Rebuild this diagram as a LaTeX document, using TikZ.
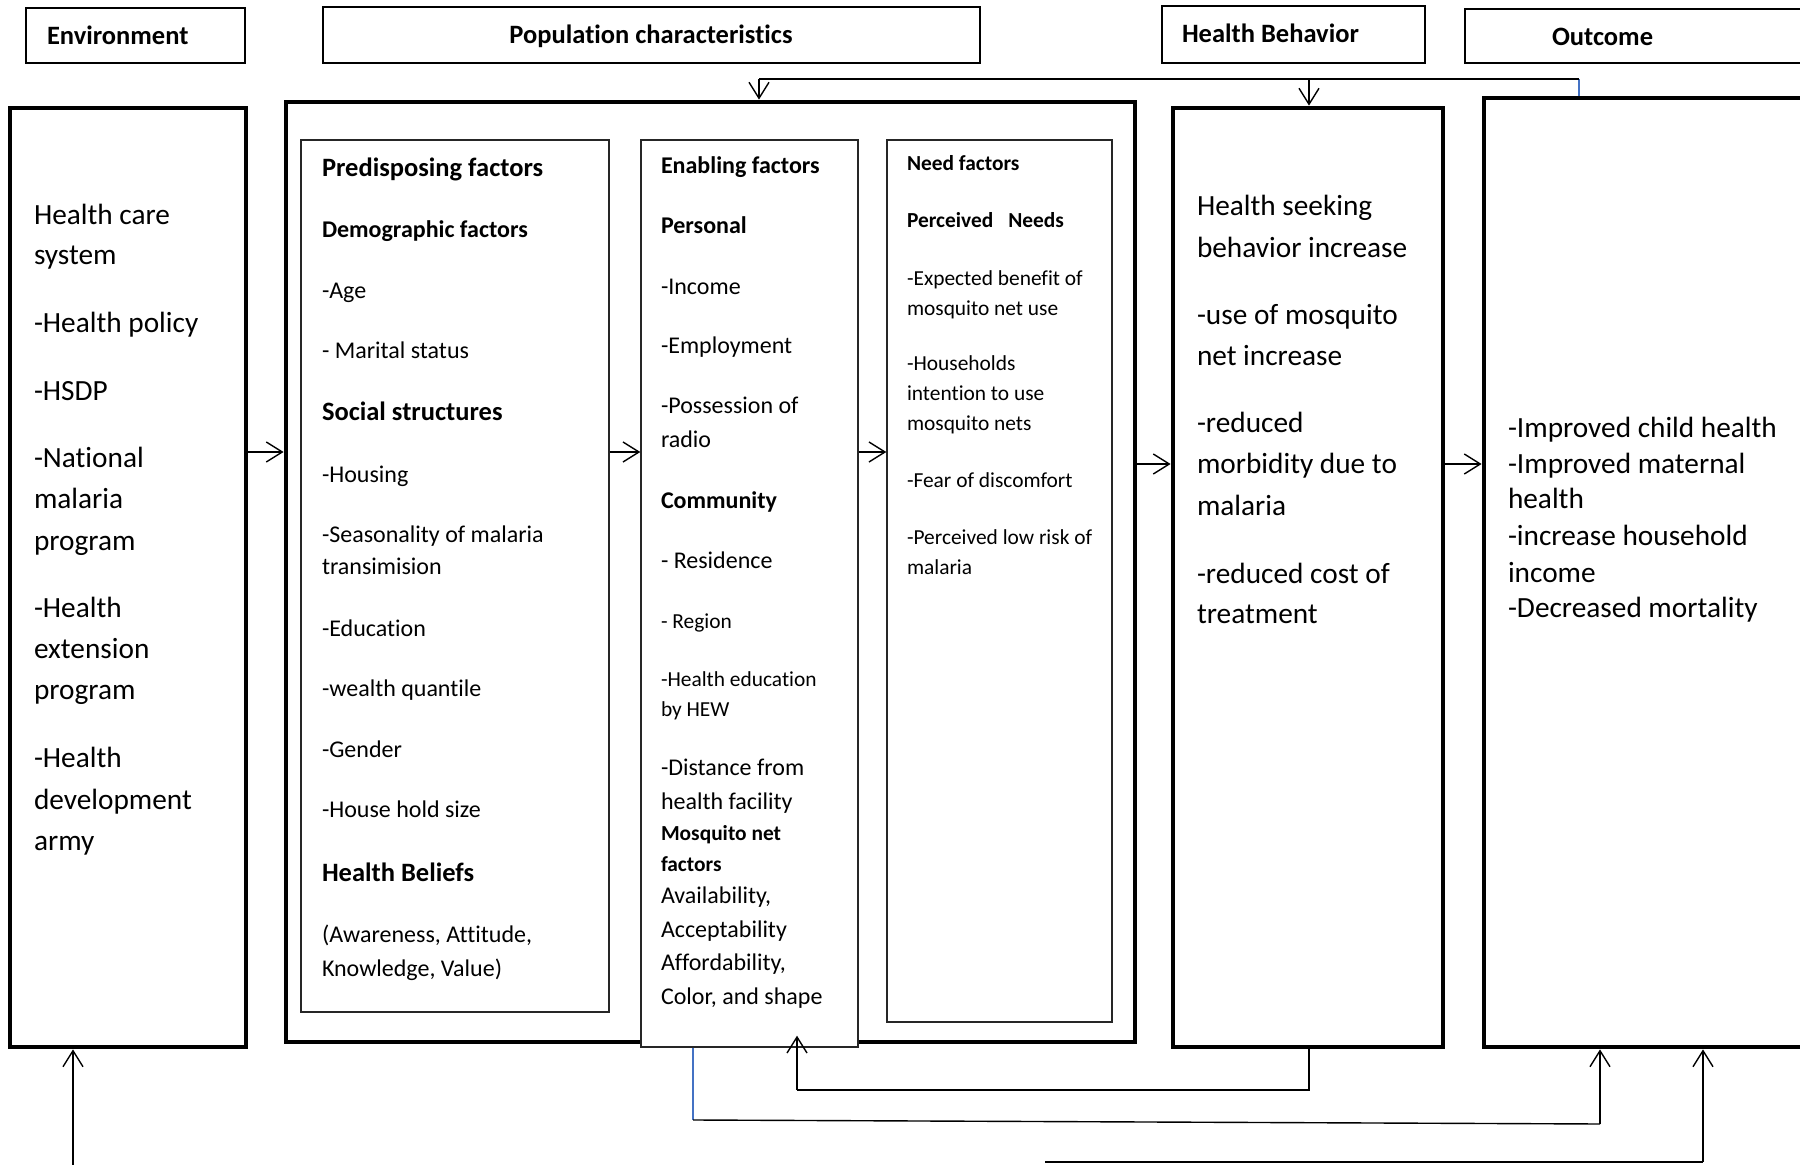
\documentclass[tikz,border=0pt]{standalone}
\usepackage{fontspec}
\setmainfont{Carlito}[Ligatures=NoCommon]
\usetikzlibrary{arrows.meta,fit}
\definecolor{linkblue}{RGB}{68,114,196}
% text sizes used in the framework
\newcommand\txBg{\fontsize{14.65}{17}\selectfont}
\newcommand\txHd{\fontsize{13.25}{16}\selectfont\bfseries}
\newcommand\txMd{\fontsize{12}{14}\selectfont}
\newcommand\txMb{\fontsize{12}{14}\selectfont\bfseries}
\newcommand\txSm{\fontsize{10.7}{13}\selectfont}
\newcommand\txSb{\fontsize{10.7}{13}\selectfont\bfseries}
\begin{document}
\begin{tikzpicture}[x=0.5pt,y=-0.5pt,
  bigbox/.style={draw,line width=2.4pt,inner sep=0pt,fill=white},
  thinbox/.style={draw=black!85,line width=0.7pt,inner sep=0pt,fill=white},
  headbox/.style={draw,line width=0.7pt,inner sep=0pt},
  ln/.style={anchor=base west,inner sep=0pt,outer sep=0pt},
  conn/.style={line width=0.7pt},
  arr/.style={conn,-{Straight Barb[length=8pt,width=10pt]}},
  blueconn/.style={draw=linkblue,line width=0.9pt}]
\useasboundingbox (0,0) rectangle (1800,1165);
\clip (0,0) rectangle (1800,1165);

% ---- column headers ----
\node[headbox,fit={(26,8) (245,63)}] (hEnv) {};
\node[headbox,fit={(323,7) (980,63)}] (hPop) {};
\node[headbox,fit={(1162,6) (1425,63)}] (hBeh) {};
\node[headbox,fit={(1465,9) (1815,63)}] (hOut) {};
\node[ln,font=\txHd] (tEnv) at (47,45) {Environment};
\node[anchor=base,inner sep=0pt,font=\txHd] (tPop) at (651,44) {Population characteristics};
\node[ln,font=\txHd] (tBeh) at (1182,43) {Health Behavior};
\node[ln,font=\txHd] (tOut) at (1552,46) {Outcome};

% ---- main frames ----
\node[bigbox,fit={(10,108) (246,1047)}] (env) {};
\node[bigbox,fit={(286,102) (1135,1042)}] (pop) {};
\node[bigbox,fit={(1173,108) (1443,1047)}] (beh) {};
\node[bigbox,fit={(1484,98) (1815,1047)}] (out) {};

% ---- factor boxes inside the population frame ----
\node[thinbox,fit={(301,140) (609,1012)}] (pred) {};
\node[thinbox,fit={(641,140) (858,1047)}] (enab) {};
\node[thinbox,fit={(887,140) (1112,1022)}] (need) {};

% ---- environment ----
\foreach \yy/\txt [count=\i] in {225/Health care, 265/system, 333/-Health policy,
  401/-HSDP, 468/-National, 509/malaria, 551/program, 618/-Health,
  659/extension, 700/program, 768/-Health, 810/development, 850/army}
  \node[ln,font=\txBg] (env-\i) at (34,\yy) {\txt};

% ---- predisposing factors ----
\foreach \yy/\fnt/\txt [count=\i] in {177/\txHd/Predisposing factors,
  238/\txMb/Demographic factors, 299/\txMd/-Age, 359/\txMd/- Marital status,
  421/\txHd/Social structures, 483/\txMd/-Housing,
  543/\txMd/-Seasonality of malaria, 575/\txMd/transimision,
  637/\txMd/-Education, 697/\txMd/-wealth quantile, 757/\txMd/-Gender,
  818/\txMd/-House hold size, 881/\txHd/Health Beliefs,
  942/\txMd/{(Awareness, Attitude,}, 976/\txMd/{Knowledge, Value)}}
  \node[ln,font=\fnt] (pred-\i) at (322,\yy) {\txt};

% ---- enabling factors ----
\foreach \yy/\fnt/\txt [count=\i] in {174/\txMb/Enabling factors,
  234/\txMb/Personal, 295/\txMd/-Income, 354/\txMd/-Employment,
  414/\txMd/-Possession of, 448/\txMd/radio, 509/\txMb/Community,
  569/\txMd/- Residence, 629/\txSm/- Region, 687/\txSm/-Health education,
  717/\txSm/by HEW, 776/\txMd/-Distance from, 810/\txMd/health facility,
  841/\txSb/Mosquito net, 871/\txSb/factors, 903/\txMd/{Availability,},
  937/\txMd/Acceptability, 970/\txMd/{Affordability,},
  1004/\txMd/{Color, and shape}}
  \node[ln,font=\fnt] (enab-\i) at (661,\yy) {\txt};

% ---- need factors ----
\foreach \yy/\fnt/\txt [count=\i] in {171/\txSb/Need factors,
  228/\txSb/Perceived\hspace{7.5pt}Needs, 286/\txSm/-Expected benefit of,
  316/\txSm/mosquito net use, 371/\txSm/-Households,
  401/\txSm/intention to use, 431/\txSm/mosquito nets,
  488/\txSm/-Fear of discomfort, 545/\txSm/-Perceived low risk of,
  575/\txSm/malaria}
  \node[ln,font=\fnt] (need-\i) at (907,\yy) {\txt};

% ---- health behavior ----
\foreach \yy/\txt [count=\i] in {216/Health seeking, 258/behavior increase,
  325/-use of mosquito, 366/net increase, 433/-reduced,
  474/morbidity due to, 516/malaria, 584/-reduced cost of, 624/treatment}
  \node[ln,font=\txBg] (beh-\i) at (1197,\yy) {\txt};

% ---- outcome ----
\foreach \yy/\txt [count=\i] in {438/-Improved child health,
  474/-Improved maternal, 509/health, 546/-increase household,
  583/income, 618/-Decreased mortality}
  \node[ln,font=\txBg] (out-\i) at (1508,\yy) {\txt};

% ---- forward links ----
\coordinate (ya) at (0,452);
\coordinate (yb) at (0,464);
\draw[arr] (env.east |- ya) -- (pop.west |- ya);
\draw[arr] (pred.east |- ya) -- (enab.west |- ya);
\draw[arr] (enab.east |- ya) -- (need.west |- ya);
\draw[arr] (pop.east |- yb) -- (beh.west |- yb);
\draw[arr] (beh.east |- yb) -- (out.west |- yb);

% ---- feedback along the top ----
\coordinate (topR) at (1579,79);
\coordinate (topL) at (759,79);
\coordinate (topM) at (1309,79);
\draw[blueconn] (topR) -- (out.north -| topR);
\draw[conn] (topR) -- (topL);
\draw[arr] (topL) -- (pop.north -| topL);
\draw[arr] (topM) -- (beh.north -| topM);

% ---- feedback along the bottom ----
\coordinate (bA1) at (1309,1090);
\coordinate (bA2) at (797,1090);
\draw[conn] (beh.south -| bA1) -- (bA1) -- (bA2);
\draw[arr] (bA2) -- ([yshift=6pt]enab.south -| bA2);

\coordinate (bB1) at (693,1120);
\coordinate (bB2) at (1600,1124);
\draw[blueconn] (enab.south -| bB1) -- (bB1);
\draw[conn] (bB1) -- (bB2);
\draw[arr] (bB2) -- (out.south -| bB2);

\coordinate (bC1) at (1045,1162);
\coordinate (bC2) at (1703,1162);
\draw[conn] (bC1) -- (bC2);
\draw[arr] (bC2) -- (out.south -| bC2);

\coordinate (bD) at (73,1166);
\draw[arr] (bD) -- (env.south -| bD);
\end{tikzpicture}
\end{document}
